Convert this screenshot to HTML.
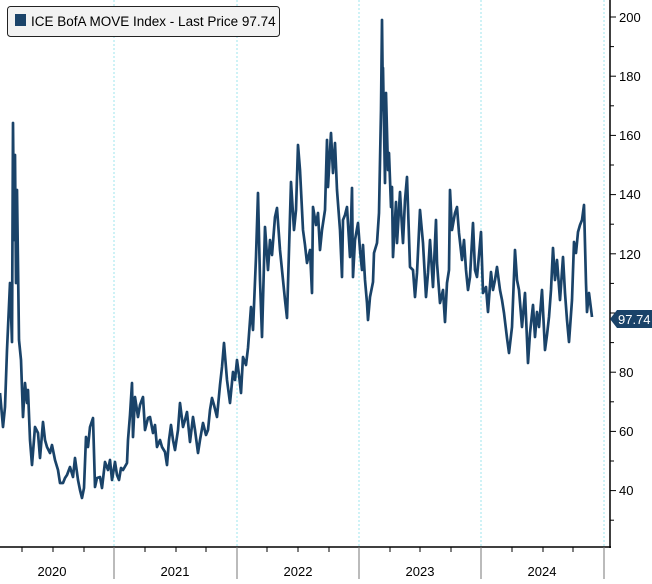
<!DOCTYPE html>
<html><head><meta charset="utf-8"><style>
html,body{margin:0;padding:0;background:#fff;}
body{width:652px;height:579px;overflow:hidden;font-family:"Liberation Sans",sans-serif;}
</style></head><body>
<svg width="652" height="579" viewBox="0 0 652 579" xmlns="http://www.w3.org/2000/svg">
<g stroke="#9ee6ee" stroke-width="1" stroke-dasharray="2,2">
<line x1="114" y1="0" x2="114" y2="547"/><line x1="237" y1="0" x2="237" y2="547"/>
<line x1="359" y1="0" x2="359" y2="547"/><line x1="481" y1="0" x2="481" y2="547"/>
<line x1="604" y1="0" x2="604" y2="547"/>
</g>
<polyline fill="none" stroke="#1a4369" stroke-width="2.7" stroke-linejoin="round" points="
0,393 3,427 5,407 7,350 10,283 12,342 13,123 14,240 15,155 16,283 17,190 19,340 21,360 23,417 25,383 27,403 28,390 30,440 32,465 35,427 38,433 40,458 43,422 45,440 47,447 50,453 52,445 55,460 58,470 60,483 63,483 65,478 67,475 70,467 73,477 75,458 78,480 80,490 82,498 84,488 86,437 88,447 90,427 93,418 95,487 97,478 100,477 102,488 105,462 108,470 110,460 112,480 115,462 117,475 119,480 121,468 123,470 127,463 128,440 130,415 132,383 133,437 135,397 138,417 140,405 143,397 145,430 148,418 150,417 153,433 155,425 157,447 160,440 162,447 165,452 167,465 169,440 171,425 173,440 175,450 178,430 180,403 183,427 185,420 187,412 190,442 193,417 195,430 198,453 200,440 203,423 206,435 208,430 210,410 212,398 214,405 217,417 220,385 222,367 224,343 227,380 230,403 233,372 235,380 237,360 239,375 241,393 243,357 246,365 248,348 251,307 253,330 256,257 258,193 260,280 262,337 265,227 268,270 270,240 272,255 275,217 277,208 280,250 283,280 285,300 287,318 289,250 291,182 294,230 296,210 298,145 300,170 303,230 305,245 307,263 310,250 312,293 313,207 316,225 318,213 320,250 322,230 325,210 327,140 328,187 331,133 333,173 335,143 337,190 340,230 342,277 343,220 345,215 347,207 350,257 352,188 353,277 355,240 358,223 360,250 362,270 363,245 365,280 367,303 368,320 370,297 373,282 374,253 377,243 379,213 381,110 382,20 383,110 383,68 385,183 386,93 388,170 389,153 391,207 392,187 393,257 396,202 397,243 400,192 402,227 403,243 405,200 407,177 410,267 413,270 415,297 417,273 420,210 423,243 426,297 428,273 430,240 433,287 436,220 437,263 440,303 443,290 445,322 447,283 449,270 450,190 452,230 455,213 457,207 459,233 462,260 464,240 466,270 468,290 470,277 473,223 475,270 477,277 479,255 481,232 483,293 486,287 488,312 491,272 493,290 495,280 497,267 500,290 502,300 504,313 507,338 509,353 512,327 515,250 517,280 519,290 522,327 525,293 528,363 530,333 533,305 535,337 537,312 539,327 542,290 545,350 547,335 549,317 551,290 553,248 555,280 557,260 560,300 563,257 565,293 567,320 569,342 572,300 574,242 576,253 578,232 580,225 582,220 584,205 586,283 587,312 589,293 592,317"/>
<line x1="0" y1="547" x2="611" y2="547" stroke="#000" stroke-width="1.5"/>
<line x1="610" y1="0" x2="610" y2="548" stroke="#000" stroke-width="1.5"/>
<g stroke="#000" stroke-width="1">
<line x1="610" y1="17" x2="616" y2="17"/><line x1="610" y1="46.6" x2="614" y2="46.6"/>
<line x1="610" y1="76.2" x2="616" y2="76.2"/><line x1="610" y1="105.8" x2="614" y2="105.8"/>
<line x1="610" y1="135.4" x2="616" y2="135.4"/><line x1="610" y1="165" x2="614" y2="165"/>
<line x1="610" y1="194.6" x2="616" y2="194.6"/><line x1="610" y1="224.2" x2="614" y2="224.2"/>
<line x1="610" y1="253.8" x2="616" y2="253.8"/><line x1="610" y1="283.4" x2="614" y2="283.4"/>
<line x1="610" y1="313" x2="616" y2="313"/><line x1="610" y1="342.6" x2="614" y2="342.6"/>
<line x1="610" y1="372.2" x2="616" y2="372.2"/><line x1="610" y1="401.8" x2="614" y2="401.8"/>
<line x1="610" y1="431.4" x2="616" y2="431.4"/><line x1="610" y1="461" x2="614" y2="461"/>
<line x1="610" y1="490.6" x2="616" y2="490.6"/><line x1="610" y1="520.2" x2="614" y2="520.2"/>
</g>
<g stroke="#777" stroke-width="1">
<line x1="114" y1="547" x2="114" y2="579"/><line x1="237" y1="547" x2="237" y2="579"/>
<line x1="359" y1="547" x2="359" y2="579"/><line x1="481" y1="547" x2="481" y2="579"/>
<line x1="604" y1="547" x2="604" y2="579"/>
</g>
<g stroke="#000" stroke-width="1">
<line x1="22" y1="547" x2="22" y2="552"/><line x1="53" y1="547" x2="53" y2="552"/><line x1="84" y1="547" x2="84" y2="552"/>
<line x1="145" y1="547" x2="145" y2="552"/><line x1="176" y1="547" x2="176" y2="552"/><line x1="206" y1="547" x2="206" y2="552"/>
<line x1="267" y1="547" x2="267" y2="552"/><line x1="298" y1="547" x2="298" y2="552"/><line x1="329" y1="547" x2="329" y2="552"/>
<line x1="390" y1="547" x2="390" y2="552"/><line x1="420" y1="547" x2="420" y2="552"/><line x1="451" y1="547" x2="451" y2="552"/>
<line x1="512" y1="547" x2="512" y2="552"/><line x1="543" y1="547" x2="543" y2="552"/><line x1="573" y1="547" x2="573" y2="552"/>
</g>
<g font-family="Liberation Sans, sans-serif" font-size="13" fill="#000">
<text x="619" y="22">200</text><text x="619" y="81">180</text><text x="619" y="140">160</text>
<text x="619" y="199">140</text><text x="619" y="259">120</text><text x="619" y="377">80</text>
<text x="619" y="436">60</text><text x="619" y="495">40</text>
<text x="52" y="576" text-anchor="middle">2020</text><text x="175" y="576" text-anchor="middle">2021</text>
<text x="298" y="576" text-anchor="middle">2022</text><text x="420" y="576" text-anchor="middle">2023</text>
<text x="542" y="576" text-anchor="middle">2024</text>
</g>
<path d="M610,319 L617,310 L652,310 L652,328 L617,328 Z" fill="#1a4369"/>
<text x="618" y="324" font-family="Liberation Sans, sans-serif" font-size="13" fill="#fff">97.74</text>
<rect x="7.5" y="6.5" width="272" height="30" rx="3" fill="#f2f2f2" stroke="#222" stroke-width="1"/>
<rect x="15" y="14" width="11" height="12" fill="#1a4369"/>
<text x="31" y="26" font-family="Liberation Sans, sans-serif" font-size="13.5" fill="#000">ICE BofA MOVE Index - Last Price 97.74</text>
</svg>
</body></html>
